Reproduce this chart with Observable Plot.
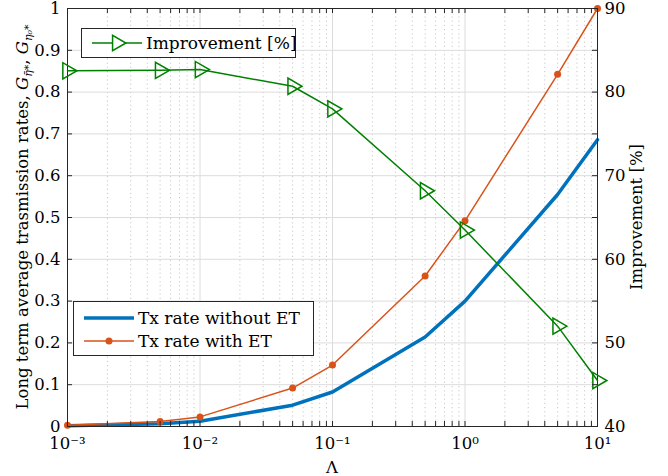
<!DOCTYPE html>
<html><head><meta charset="utf-8">
<script src="https://cdn.jsdelivr.net/npm/d3@7"></script>
<script src="https://cdn.jsdelivr.net/npm/@observablehq/plot@0.6"></script>
<style>
body{margin:0;background:#fff;}
#wrap{position:relative;width:668px;height:476px;font-family:"DejaVu Serif",serif;color:#000;}
#wrap > svg{position:absolute;left:0;top:0;}
.leg{position:absolute;background:#fff;border:1px solid #262626;box-sizing:border-box;}
.leg .row{position:absolute;left:0;height:22px;display:flex;align-items:center;white-space:nowrap;font-size:17px;}
.leg .row svg{display:block;}
</style></head><body><div id="wrap"></div>
<script>
// ---- data ----
const lambda = [0.001, 0.005, 0.01, 0.05, 0.1, 0.5, 1, 5, 10];
const rateWithout = [0.0016, 0.0066, 0.0126, 0.051, 0.0826, 0.214, 0.300, 0.555, 0.686];
const rateWith = [0.003, 0.012, 0.023, 0.092, 0.147, 0.360, 0.492, 0.8425, 1.000];
const improvement = [82.55, 82.6, 82.7, 80.7, 78.0, 68.2, 63.5, 52.0, 45.5];
const xMajorTicks = [1e-3, 1e-2, 1e-1, 1, 10];
const xTickLabels = ["10⁻³", "10⁻²", "10⁻¹", "10⁰", "10¹"];
const yLeftTicks = [0, 0.1, 0.2, 0.3, 0.4, 0.5, 0.6, 0.7, 0.8, 0.9, 1];
const yLeftLabels = ["0", "0.1", "0.2", "0.3", "0.4", "0.5", "0.6", "0.7", "0.8", "0.9", "1"];
const yRightTicks = [40, 45, 50, 55, 60, 65, 70, 75, 80, 85, 90];
const yRightLabels = [40, 50, 60, 70, 80, 90];
const seriesNames = ["Tx rate without ET", "Tx rate with ET", "Improvement [%]"];
const colors = {without: "#0072BD", with: "#D95319", imp: "#008000"};

// ---- layout ----
const W = 668, H = 476;
const M = {top: 8, right: 71, bottom: 50, left: 67};
const plotW = W - M.left - M.right, plotH = H - M.top - M.bottom;
const tk = 5;
const font = '"DejaVu Serif", serif';
const axisColor = "#262626";
const fs = 16.5;

const minorTicks = [];
for (let e = -3; e < 1; e++) for (let m = 2; m <= 9; m++) minorTicks.push(m * Math.pow(10, e));
const allXTicks = [...xMajorTicks, ...minorTicks];
const xLabelMap = new Map(xMajorTicks.map((d, i) => [d, xTickLabels[i]]));
const yLabelMap = new Map(yLeftTicks.map((d, i) => [d, yLeftLabels[i]]));

const rowsWithout = lambda.map((x, i) => ({x, y: rateWithout[i]}));
const rowsWith = lambda.map((x, i) => ({x, y: rateWith[i]}));
const rowsImp = lambda.map((x, i) => ({x, y: improvement[i]}));

const common = {
  width: W, height: H,
  marginTop: M.top, marginRight: M.right, marginBottom: M.bottom, marginLeft: M.left,
  x: {type: "log", domain: [1e-3, 10]},
  style: {fontFamily: font, fontSize: fs + "px", background: "transparent", overflow: "visible", color: "#000"}
};

const main = Plot.plot({
  ...common,
  y: {domain: [0, 1]},
  marks: [
    Plot.ruleX(minorTicks, {stroke: "#c8c8c8", strokeDasharray: "1.2,3"}),
    Plot.ruleX(xMajorTicks, {stroke: "#dcdcdc"}),
    Plot.ruleY(yLeftTicks, {stroke: "#dcdcdc"}),
    Plot.line(rowsWithout, {x: "x", y: "y", stroke: colors.without, strokeWidth: 3.5}),
    Plot.line(rowsWith, {x: "x", y: "y", stroke: colors.with, strokeWidth: 1.5}),
    Plot.dot(rowsWith, {x: "x", y: "y", fill: colors.with, r: 3.5}),
    Plot.tickX(allXTicks, {x: d => d, stroke: axisColor, insetTop: plotH - tk}),
    Plot.tickX(allXTicks, {x: d => d, stroke: axisColor, insetBottom: plotH - tk}),
    Plot.tickY(yLeftTicks, {y: d => d, stroke: axisColor, insetRight: plotW - tk}),
    Plot.axisX(xMajorTicks, {tickSize: 0, tickPadding: 11, tickFormat: d => xLabelMap.get(d), label: null, fontSize: fs}),
    Plot.axisY(yLeftTicks, {tickSize: 0, tickPadding: 7, tickFormat: d => yLabelMap.get(d), label: null, fontSize: fs}),
    Plot.frame({stroke: axisColor})
  ]
});

const right = Plot.plot({
  ...common,
  y: {domain: [40, 90]},
  marks: [
    Plot.line(rowsImp, {x: "x", y: "y", stroke: colors.imp, strokeWidth: 1.5}),
    Plot.dot(rowsImp, {x: "x", y: "y", symbol: "triangle", rotate: 90, r: 6, stroke: colors.imp, strokeWidth: 1.5, fill: "none"}),
    Plot.tickY(yRightTicks, {y: d => d, stroke: axisColor, insetLeft: plotW - tk}),
    Plot.axisY(yRightLabels, {anchor: "right", tickSize: 0, tickPadding: 7, label: null, fontSize: fs}),
    Plot.axisX([], {label: null})
  ]
});

const wrap = document.getElementById("wrap");
wrap.appendChild(main);
wrap.appendChild(right);

// axis titles
const svg = d3.select(main);
const cy = M.top + plotH / 2;
const lt = svg.append("text")
  .attr("transform", `translate(28,${cy}) rotate(-90)`)
  .attr("text-anchor", "middle").attr("font-size", 16.5).attr("fill", "#000");
lt.append("tspan").text("Long term average trasmission rates, ");
lt.append("tspan").attr("font-style", "italic").text("G");
lt.append("tspan").attr("font-size", 11).attr("dy", 4).attr("font-style", "italic").text("η̄*");
lt.append("tspan").attr("dy", -4).text(", ");
lt.append("tspan").attr("font-style", "italic").text("G");
lt.append("tspan").attr("font-size", 11).attr("dy", 4).attr("font-style", "italic").text("η₀*");

svg.append("text")
  .attr("transform", `translate(642,${cy}) rotate(-90)`)
  .attr("text-anchor", "middle").attr("font-size", 16.5).attr("fill", "#000")
  .text(seriesNames[2]);

svg.append("text")
  .attr("x", M.left + plotW / 2).attr("y", 473)
  .attr("text-anchor", "middle").attr("font-size", 16.5).attr("fill", "#000")
  .text("Λ");

// legends
function legend(left, top, w, h, items) {
  const d = document.createElement("div");
  d.className = "leg";
  Object.assign(d.style, {left: left + "px", top: top + "px", width: w + "px", height: h + "px"});
  items.forEach((it, i) => {
    const r = document.createElement("div");
    r.className = "row";
    r.style.top = (it.top) + "px";
    r.style.left = "8px";
    const s = d3.create("svg").attr("width", 56).attr("height", 22);
    s.append("line").attr("x1", 2).attr("x2", 52).attr("y1", 11).attr("y2", 11)
      .attr("stroke", it.color).attr("stroke-width", it.sw);
    if (it.marker === "dot") s.append("circle").attr("cx", 27).attr("cy", 11).attr("r", 3.5).attr("fill", it.color);
    if (it.marker === "tri") s.append("path").attr("d", d3.symbol(d3.symbolTriangle, Math.PI * 36 * 0.9)())
      .attr("transform", "translate(27,11) rotate(90)").attr("fill", "white").attr("stroke", it.color).attr("stroke-width", 1.5);
    r.appendChild(s.node());
    const t = document.createElement("span");
    t.textContent = it.label;
    r.appendChild(t);
    d.appendChild(r);
  });
  wrap.appendChild(d);
}
legend(81, 28, 215, 30, [{label: seriesNames[2], color: colors.imp, sw: 1.5, marker: "tri", top: 3}]);
legend(73, 301, 241, 55, [
  {label: seriesNames[0], color: colors.without, sw: 3.5, marker: null, top: 5},
  {label: seriesNames[1], color: colors.with, sw: 1.5, marker: "dot", top: 28}
]);
</script></body></html>
